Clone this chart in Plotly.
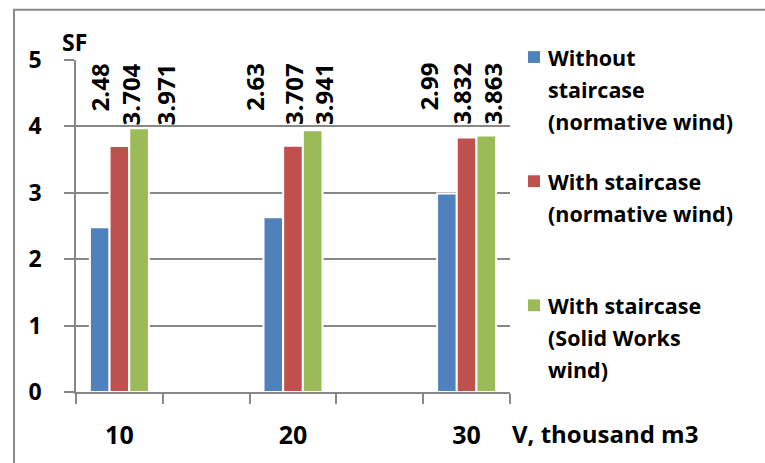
import plotly.graph_objects as go

# ---- data -------------------------------------------------------------
volumes = [10, 20, 30]                      # V, thousand m3
x_tick_labels = ["10", "20", "30"]
without_staircase_norm = [2.48, 2.63, 2.99]
with_staircase_norm = [3.704, 3.707, 3.832]
with_staircase_sw = [3.971, 3.941, 3.863]
y_ticks = [0, 1, 2, 3, 4, 5]

series_names = [
    "Without staircase (normative wind)",
    "With staircase (normative wind)",
    "With staircase (Solid Works wind)",
]
legend_lines = [
    ["Without", "staircase", "(normative wind)"],
    ["With staircase", "(normative wind)"],
    ["With staircase", "(Solid Works", "wind)"],
]
series_values = [without_staircase_norm, with_staircase_norm, with_staircase_sw]
colors = ["#4F81BD", "#C0504D", "#9BBB59"]

# ---- styling ----------------------------------------------------------
FONT = "Open Sans"
W, H = 765, 463
L, R, T, B = 76, 255, 60, 66
PW, PH = W - L - R, H - T - B
GRID = "#878787"

# horizontal pixel offsets of the rotated value labels, per group / series
label_shift = [[-20, 11, 46], [-39, 0, 30], [-39, -6, 25]]


def px_x(px):
    return (px - L) / PW


def px_y(py):
    return (H - B - py) / PH


fig = go.Figure()
for name, vals, col in zip(series_names, series_values, colors):
    fig.add_trace(go.Bar(
        x=volumes, y=vals, name=name,
        marker=dict(color=col, line=dict(color="white", width=2)),
        showlegend=False,
    ))

# rotated value labels along the top of the plot area
annotations = []
for s, vals in enumerate(series_values):
    for c, (v, val) in enumerate(zip(volumes, vals)):
        annotations.append(dict(
            x=v, y=y_ticks[-1], xref="x", yref="y",
            text=f"<b>{val:g}</b>", textangle=-90, showarrow=False,
            xanchor="center", yanchor="top",
            xshift=label_shift[c][s], yshift=-1,
            font=dict(family=FONT, size=24, color="black"),
        ))

# axis titles
annotations.append(dict(
    x=px_x(60), y=px_y(42), xref="paper", yref="paper",
    text="<b>SF</b>", showarrow=False, xanchor="left", yanchor="middle",
    font=dict(family=FONT, size=23, color="black"),
))
annotations.append(dict(
    x=px_x(510), y=px_y(439), xref="paper", yref="paper",
    text="<b>V, thousand m3</b>", showarrow=False, xanchor="left", yanchor="middle",
    font=dict(family=FONT, size=24, color="black"),
))

# legend: colour squares with wrapped bold text
shapes = []
entry_top = [57, 183, 309]
line_step = 32.5
for col, lines, y0 in zip(colors, legend_lines, entry_top):
    shapes.append(dict(
        type="rect", xref="paper", yref="paper",
        x0=px_x(528), x1=px_x(540), y0=px_y(y0 - 6), y1=px_y(y0 + 6),
        fillcolor=col, line=dict(width=0),
    ))
    for k, txt in enumerate(lines):
        annotations.append(dict(
            x=px_x(546), y=px_y(y0 + k * line_step), xref="paper", yref="paper",
            text=f"<b>{txt}</b>", showarrow=False, xanchor="left", yanchor="middle",
            font=dict(family=FONT, size=21.5, color="black"),
        ))

# chart frame
shapes.append(dict(
    type="rect", xref="paper", yref="paper",
    x0=px_x(14), y0=px_y(9), x1=px_x(W + 20), y1=px_y(H + 20),
    line=dict(color="#8a8a8a", width=2), fillcolor="rgba(0,0,0,0)", layer="below",
))

fig.update_layout(
    width=W, height=H,
    margin=dict(l=L, r=R, t=T, b=B, pad=0),
    paper_bgcolor="white", plot_bgcolor="white",
    barmode="group", bargap=0.66, bargroupgap=0,
    annotations=annotations, shapes=shapes,
    font=dict(family=FONT, color="black"),
)
fig.update_xaxes(
    range=[7.5, 32.5], tickmode="array", tickvals=volumes,
    ticktext=[f"<b>{t}</b>" for t in x_tick_labels],
    ticks="", ticklabelstandoff=20,
    tickfont=dict(family=FONT, size=25, color="black"),
    showgrid=False, zeroline=False,
    showline=True, linecolor=GRID, linewidth=1.5,
    minor=dict(tickmode="array", tickvals=[7.5, 12.5, 17.5, 22.5, 27.5, 32.5],
               ticks="outside", ticklen=10, tickcolor=GRID, tickwidth=1.5, showgrid=False),
)
fig.update_yaxes(
    range=[0, 5], tickmode="array", tickvals=y_ticks,
    ticktext=[f"<b>{t}</b>" for t in y_ticks],
    ticks="outside", ticklen=10, tickcolor=GRID, tickwidth=1.5,
    ticklabelstandoff=18,
    tickfont=dict(family=FONT, size=23, color="black"),
    showgrid=True, gridcolor=GRID, gridwidth=1.5, zeroline=False,
    showline=True, linecolor=GRID, linewidth=1.5,
)

fig.write_html("out.html")
